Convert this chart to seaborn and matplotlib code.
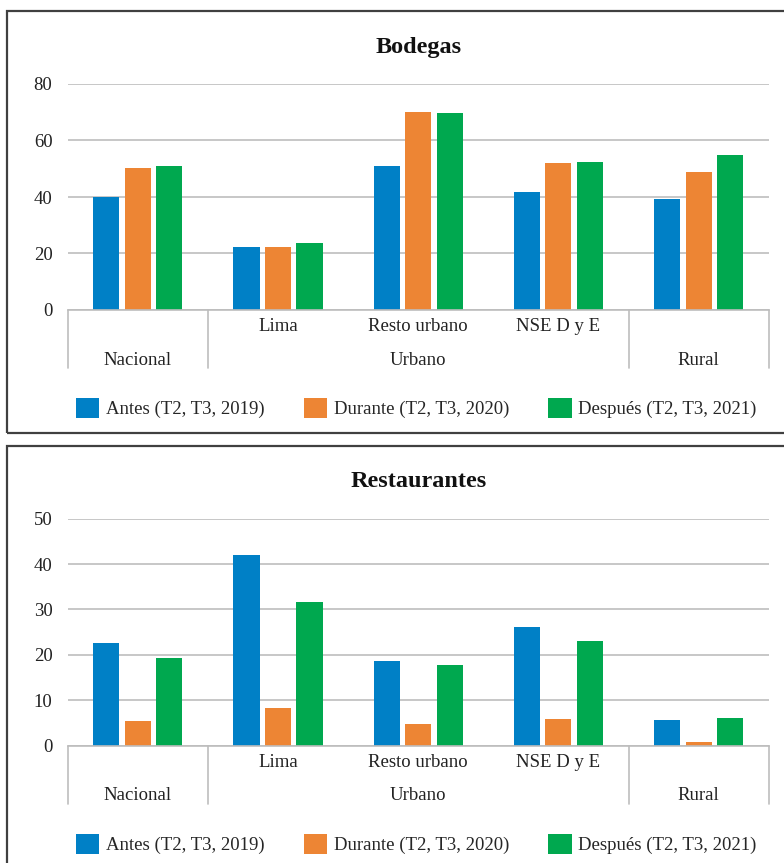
import matplotlib
matplotlib.use("Agg")
import matplotlib.pyplot as plt
from matplotlib.patches import Rectangle
import numpy as np
import pandas as pd
import seaborn as sns

# datos
categorias = ["Nacional", "Lima", "Resto urbano", "NSE D y E", "Rural"]
sub_etiquetas = ["", "Lima", "Resto urbano", "NSE D y E", ""]
periodos = ["Antes (T2, T3, 2019)", "Durante (T2, T3, 2020)", "Después (T2, T3, 2021)"]
colores = ["#0080C6", "#ED8534", "#00A84F"]

bodegas_antes = [40.0, 22.3, 51.0, 41.8, 39.3]
bodegas_durante = [50.3, 22.3, 70.1, 52.0, 48.8]
bodegas_despues = [51.0, 23.7, 69.7, 52.4, 54.9]

rest_antes = [22.6, 42.0, 18.6, 26.1, 5.6]
rest_durante = [5.4, 8.3, 4.7, 5.8, 0.8]
rest_despues = [19.3, 31.6, 17.7, 23.0, 6.1]

grupos = [("Nacional", 0), ("Urbano", 2), ("Rural", 4)]
separadores = [-0.5, 0.5, 3.5, 4.5]


def armar_df(antes, durante, despues):
    filas = []
    for serie, vals in zip(periodos, [antes, durante, despues]):
        for c, v in zip(categorias, vals):
            filas.append({"categoria": c, "periodo": serie, "valor": v})
    return pd.DataFrame(filas)


sns.set_style("white")
plt.rcParams["font.family"] = ["Liberation Serif", "DejaVu Serif"]

W, H = 784, 863
fig = plt.figure(figsize=(W / 100, H / 100), dpi=100)


def px(x0, y0, x1, y1):
    # caja en pixeles -> fraccion de figura
    return [x0 / W, 1 - y1 / H, (x1 - x0) / W, (y1 - y0) / H]


def panel(rect, df, titulo, ymax, paso, titulo_y, caja):
    fig.patches.append(Rectangle((caja[0] / W, 1 - caja[3] / H),
                                 (caja[2] - caja[0]) / W, (caja[3] - caja[1]) / H,
                                 transform=fig.transFigure, fill=False,
                                 edgecolor="#404040", linewidth=1.6))
    ax = fig.add_axes(rect)
    sns.barplot(data=df, x="categoria", y="valor", hue="periodo",
                hue_order=periodos, palette=colores,
                width=0.675, gap=0.17, saturation=1, linewidth=0, ax=ax, errorbar=None)
    ax.set_xlim(-0.5, 4.5)
    ax.set_ylim(0, ymax)
    ax.set_yticks(np.arange(0, ymax + 1, paso))
    ax.set_xticks([])
    ax.set_xlabel("")
    ax.set_ylabel("")
    ax.tick_params(axis="y", length=0, pad=11, labelsize=13.5, labelcolor="#222222")
    ax.yaxis.grid(True, color="#BDBDBD", linewidth=1.2)
    ax.set_axisbelow(True)
    for s in ["top", "right", "left"]:
        ax.spines[s].set_visible(False)
    ax.spines["bottom"].set_color("#BDBDBD")
    ax.spines["bottom"].set_linewidth(1.2)

    # lineas y etiquetas del eje jerarquico
    tr = ax.get_xaxis_transform()
    for xs in separadores:
        ax.plot([xs, xs], [0, -0.257], transform=tr, color="#BDBDBD",
                linewidth=1.2, clip_on=False)
    for i, s in enumerate(sub_etiquetas):
        if s:
            ax.text(i, -0.075, s, transform=tr, ha="center", va="center",
                    fontsize=13.5, color="#222222")
    for nombre, xi in grupos:
        ax.text(xi, -0.222, nombre, transform=tr, ha="center", va="center",
                fontsize=13.5, color="#222222")

    ax.legend(loc="center", bbox_to_anchor=(0.497, -0.434), ncol=3,
              frameon=False, fontsize=13.5, handlelength=1.25, handleheight=1.25,
              handletextpad=0.35, columnspacing=2.1)
    fig.text(419 / W, 1 - titulo_y / H, titulo, ha="center", va="center",
             fontsize=17.5, fontweight="bold", color="#111111")
    return ax


panel(px(67.7, 84, 768.7, 310), armar_df(bodegas_antes, bodegas_durante, bodegas_despues),
      "Bodegas", 80, 20, 47, (7, 11, 800, 433))
panel(px(67.7, 518.7, 768.7, 745.5), armar_df(rest_antes, rest_durante, rest_despues),
      "Restaurantes", 50, 10, 481, (7, 446, 800, 880))

fig.savefig("out.png", dpi=100)
